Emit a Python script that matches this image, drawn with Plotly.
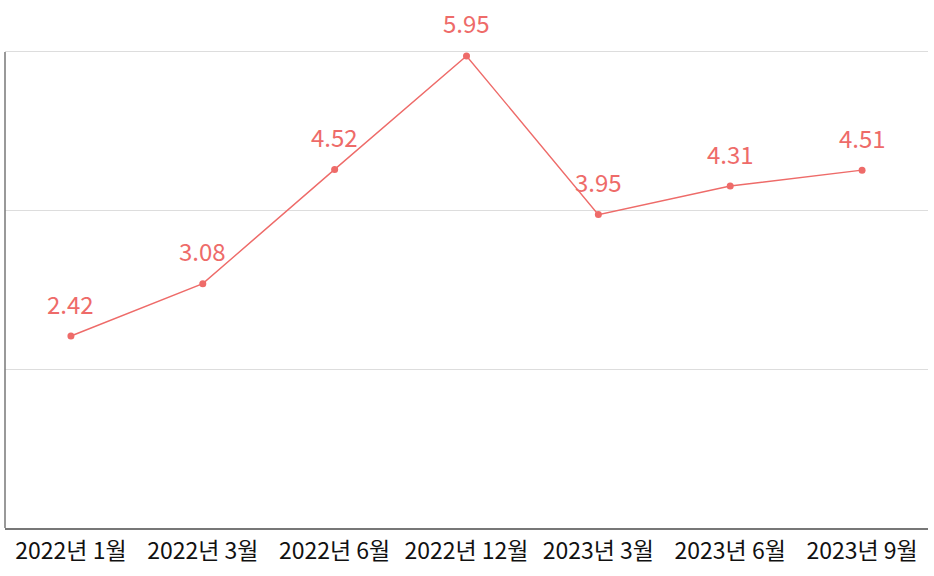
import plotly.graph_objects as go

categories = ["2022년 1월", "2022년 3월", "2022년 6월", "2022년 12월", "2023년 3월", "2023년 6월", "2023년 9월"]
values = [2.42, 3.08, 4.52, 5.95, 3.95, 4.31, 4.51]

color = "#EE6B69"
font_family = "Noto Sans CJK KR, Noto Sans, sans-serif"

fig = go.Figure()
fig.add_trace(go.Scatter(
    x=categories, y=values, mode="lines+markers",
    line=dict(color=color, width=1.4),
    marker=dict(color=color, size=7),
    hoverinfo="skip", showlegend=False,
))

for c, v in zip(categories, values):
    fig.add_annotation(x=c, y=v, text=f"{v:.2f}", showarrow=False,
                       yshift=33, font=dict(color=color, size=24, family=font_family))

fig.update_layout(
    width=934, height=576,
    margin=dict(l=5, r=6, t=48, b=48, autoexpand=False),
    paper_bgcolor="white", plot_bgcolor="white",
    font=dict(family=font_family),
    xaxis=dict(
        type="category", showgrid=False, showline=True, linecolor="#777777", linewidth=1.5,
        ticks="", tickfont=dict(size=23, color="#111111", family=font_family),
        range=[-0.5, 6.5], ticklabelstandoff=2,
    ),
    yaxis=dict(
        range=[0, 6.05], tickvals=[2, 4, 6], showgrid=True, gridcolor="#dddddd", gridwidth=1,
        showticklabels=False, showline=False,
        zeroline=False, ticks="",
    ),
    shapes=[dict(type="line", xref="paper", yref="y", x0=0, x1=0, y0=0, y1=6,
                 line=dict(color="#777777", width=1.5))],
)

fig.write_html("out.html", config={"displayModeBar": False},
               post_script="document.body.style.margin='0';document.body.style.padding='0';")
